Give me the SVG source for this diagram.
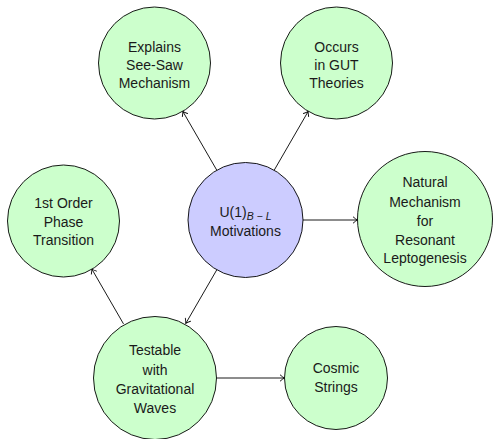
<svg xmlns="http://www.w3.org/2000/svg" width="494" height="439" viewBox="0 0 494 439">
<defs>
<marker id="arr" viewBox="-5 -4 6 8" markerWidth="6" markerHeight="8" refX="0" refY="0" orient="auto" markerUnits="userSpaceOnUse">
<path d="M -4.2,-3 Q -1.5,-0.6 0,0 Q -1.5,0.6 -4.2,3" fill="none" stroke="#000" stroke-width="0.9" stroke-linecap="round" stroke-linejoin="round"/>
</marker>
<style>
.n{stroke:#000;stroke-width:0.9}
.g{fill:#ccffcc}
.b{fill:#ccccff}
text{font-family:"Liberation Sans",Arial,sans-serif;font-size:14px;fill:#1a1a1a;text-anchor:middle}
.e{stroke:#000;stroke-width:0.9;fill:none;marker-end:url(#arr)}
</style>
</defs>
<rect width="494" height="439" fill="#fff"/>
<g id="connectors">
<line class="e" x1="216.8" y1="170.2" x2="182.8" y2="111.4"/>
<line class="e" x1="274.2" y1="170.2" x2="308.2" y2="111.4"/>
<line class="e" x1="303" y1="220" x2="357.5" y2="220"/>
<line class="e" x1="216.8" y1="269.8" x2="185.8" y2="323.4"/>
<line class="e" x1="123.5" y1="323.9" x2="91.8" y2="269"/>
<line class="e" x1="216.5" y1="378" x2="284.5" y2="378"/>
</g>
<g id="center">
<circle class="n b" cx="245.5" cy="220" r="57.5"/>
<text x="245.5" y="217" xml:space="preserve">U(1)<tspan font-style="italic" font-size="10.5" dy="3">B − L</tspan></text>
<text x="245.5" y="236">Motivations</text>
</g>
<g id="seesaw">
<circle class="n g" cx="154.5" cy="63" r="56"/>
<text x="154.5" y="52">Explains</text>
<text x="154.5" y="70">See-Saw</text>
<text x="154.5" y="88">Mechanism</text>
</g>
<g id="gut">
<circle class="n g" cx="336.5" cy="63" r="56"/>
<text x="336.5" y="52">Occurs</text>
<text x="336.5" y="70">in GUT</text>
<text x="336.5" y="88">Theories</text>
</g>
<g id="leptogenesis">
<circle class="n g" cx="425" cy="219" r="67.5"/>
<text x="425" y="187">Natural</text>
<text x="425" y="207">Mechanism</text>
<text x="425" y="226">for</text>
<text x="425" y="245">Resonant</text>
<text x="425" y="263">Leptogenesis</text>
</g>
<g id="phase">
<circle class="n g" cx="63.5" cy="221" r="56"/>
<text x="63.5" y="208">1st Order</text>
<text x="63.5" y="227">Phase</text>
<text x="63.5" y="245">Transition</text>
</g>
<g id="gw">
<circle class="n g" cx="155" cy="378" r="61.5"/>
<text x="155" y="355">Testable</text>
<text x="155" y="375">with</text>
<text x="155" y="394">Gravitational</text>
<text x="155" y="413">Waves</text>
</g>
<g id="strings">
<circle class="n g" cx="336" cy="378" r="51.5"/>
<text x="336" y="373">Cosmic</text>
<text x="336" y="392">Strings</text>
</g>
</svg>
